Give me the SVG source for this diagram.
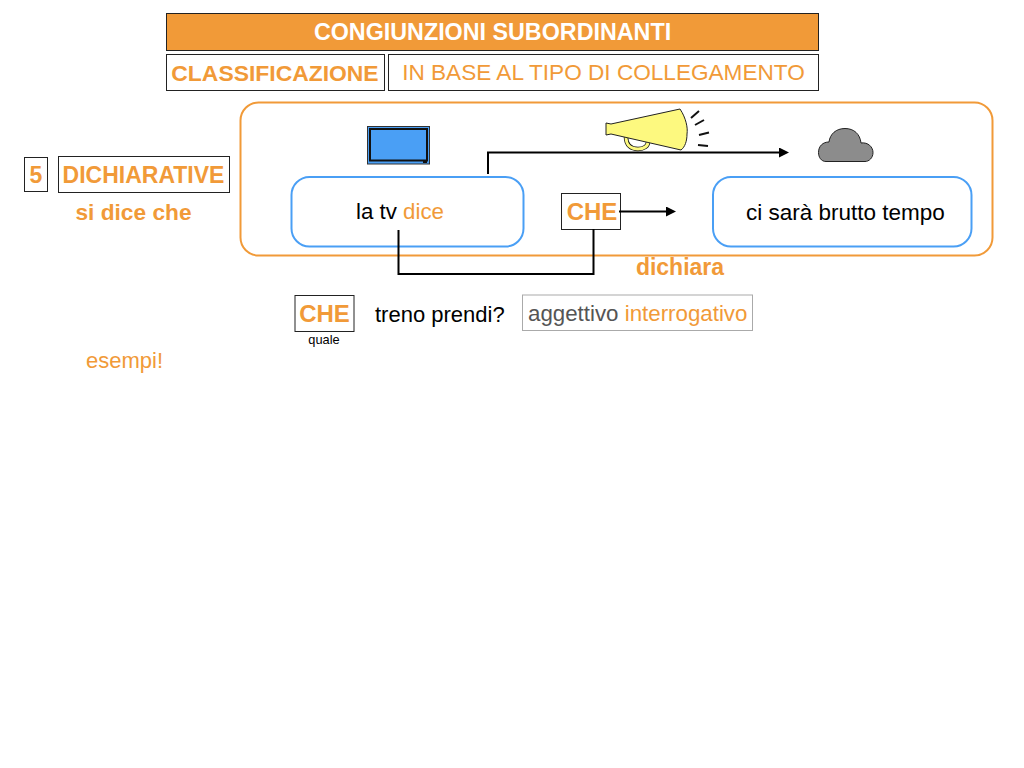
<svg xmlns="http://www.w3.org/2000/svg" width="1024" height="768" viewBox="0 0 1024 768">
<defs>
<marker id="ah" markerUnits="userSpaceOnUse" markerWidth="11" markerHeight="10" refX="5" refY="5" orient="auto"><path d="M0 0L10 5L0 10Z" fill="#000"/></marker>
</defs>
<style>
text{font-family:"Liberation Sans",Arial,sans-serif;white-space:pre}
.o{fill:#f19a38}
.b{font-weight:bold}
.box{fill:#fff;stroke:#222;stroke-width:1}
.k{fill:#000}
.conn{fill:none;stroke:#000;stroke-width:2}
</style>
<rect width="1024" height="768" fill="#fff"/>
<g id="title"><rect x="166.500" y="13.500" width="652" height="37" fill="#f19a38" stroke="#222"/>
<text x="492.500" y="40" font-size="23.300" font-weight="bold" fill="#fff" text-anchor="middle">CONGIUNZIONI SUBORDINANTI</text></g>
<g id="classificazione"><rect class="box" x="166.500" y="54.500" width="218" height="36"/>
<text class="o b" x="275" y="81" font-size="22.900" text-anchor="middle">CLASSIFICAZIONE</text></g>
<g id="tipo"><rect class="box" x="388.500" y="54.500" width="430" height="36"/>
<text class="o" x="603.500" y="80" font-size="22.600" text-anchor="middle">IN BASE AL TIPO DI COLLEGAMENTO</text></g>
<g id="frame"><rect x="240.500" y="102.500" width="752" height="153" rx="18" fill="none" stroke="#f19a38" stroke-width="2"/></g>
<g id="num"><rect class="box" x="24.500" y="157.500" width="23" height="34"/>
<text class="o b" x="36" y="183" font-size="23" text-anchor="middle">5</text></g>
<g id="dichiarative"><rect class="box" x="58.500" y="156.500" width="171" height="36"/>
<text class="o b" x="143.500" y="183" font-size="23" text-anchor="middle">DICHIARATIVE</text></g>
<g id="sidice"><text class="o b" x="133.500" y="220" font-size="22.700" text-anchor="middle">si dice che</text></g>
<g id="tv"><rect x="367.500" y="126.500" width="62" height="37.500" fill="#4a9ff5" stroke="#333"/>
<rect x="370" y="129" width="57" height="31.500" fill="#4a9ff5" stroke="#111" stroke-width="2"/>
<rect x="423" y="161" width="4" height="2" fill="#111"/></g>
<g id="megafono">
<path d="M626 137C626 146 632 149 638 149C644 149 648 146 648 142" fill="none" stroke="#111" stroke-width="4.500"/>
<path d="M626 137C626 146 632 149 638 149C644 149 648 146 648 142" fill="none" stroke="#fdf97f" stroke-width="3"/>
<path d="M606 123L611 124L680 109C686 118 688 128 687 134C687 141 685 147 681 150L611 134L606 135Z" fill="#fdf97f" stroke="#222"/>
<path d="M691 118L699 111M695 125L704 120M699 135L709 132.500M698 145L708 146" fill="none" stroke="#111" stroke-width="2"/>
</g>
<g id="nuvola"><path d="M826 161.500C821 161.500 818.500 157 818.500 152.500C818.500 146 823 142 829 142C830 134 836 128.500 845 128.500C854 128.500 860 134 861 143C868 142 873 147 873 152.500C873 158 869 161.500 865 161.500Z" fill="#8c8c8c" stroke="#222"/></g>
<g id="latv"><rect x="291.500" y="177" width="232" height="69.500" rx="18" fill="#fff" stroke="#4a9ff5" stroke-width="2"/>
<text x="356" y="219" font-size="22.300" class="k">la tv <tspan class="o">dice</tspan></text></g>
<g id="tempo"><rect x="713" y="177" width="258.500" height="69.500" rx="18" fill="#fff" stroke="#4a9ff5" stroke-width="2"/>
<text class="k" x="746" y="220" font-size="22.500">ci sarà brutto tempo</text></g>
<g id="che"><rect class="box" x="561.500" y="193.500" width="59" height="36"/>
<text class="o b" x="592" y="220" font-size="24" text-anchor="middle">CHE</text></g>
<g id="connectors">
<path class="conn" d="M488 174V152.500H784" marker-end="url(#ah)"/>
<path class="conn" d="M619 211.500H671" marker-end="url(#ah)"/>
<path class="conn" d="M398.500 230V274H593.500V229"/>
</g>
<g id="dichiara"><text class="o b" x="680" y="275" font-size="23" text-anchor="middle">dichiara</text></g>
<g id="che2"><rect class="box" x="295" y="295.500" width="59" height="36"/>
<text class="o b" x="324.500" y="322" font-size="24" text-anchor="middle">CHE</text></g>
<g id="quale"><text class="k" x="324" y="344" font-size="12.800" text-anchor="middle">quale</text></g>
<g id="treno"><text class="k" x="375" y="322" font-size="22">treno prendi?</text></g>
<g id="aggettivo"><rect x="522.500" y="295" width="230" height="35.500" fill="#fff" stroke="#aaa"/>
<text x="528" y="321" font-size="22.300" fill="#555">aggettivo <tspan class="o">interrogativo</tspan></text></g>
<g id="esempi"><text class="o" x="86" y="368" font-size="22">esempi!</text></g>
</svg>
